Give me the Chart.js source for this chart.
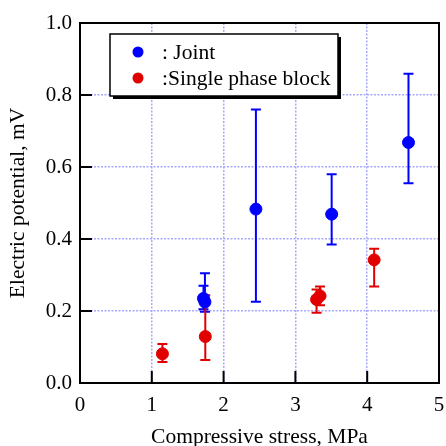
<!DOCTYPE html>
<html>
<head>
<meta charset="utf-8">
<script src="https://cdn.jsdelivr.net/npm/chart.js@4.4.0/dist/chart.umd.min.js"></script>
<style>
  html, body { margin: 0; padding: 0; background: #fff; }
  #wrap { width: 446px; height: 446px; }
</style>
</head>
<body>
<div id="wrap"><canvas id="myChart"></canvas></div>
<script>
// values
let jointX = [1.72, 1.74, 2.45, 3.505, 4.575]
let jointY = [0.235, 0.225, 0.483, 0.469, 0.668]
let jointHi = [0.270, 0.305, 0.760, 0.580, 0.859]
let jointLo = [0.205, 0.198, 0.226, 0.385, 0.555]

let singleX = [1.148, 1.745, 3.295, 3.343, 4.097]
let singleY = [0.081, 0.129, 0.232, 0.242, 0.342]
let singleHi = [0.108, 0.244, 0.260, 0.268, 0.373]
let singleLo = [0.058, 0.064, 0.195, 0.216, 0.268]

let xTicks = [0, 1, 2, 3, 4, 5]
let yTicks = [0.0, 0.2, 0.4, 0.6, 0.8, 1.0]

let font = 'Liberation Serif'
let blue = '#0000ff'
let red = '#e00000'

function pts(xs, ys, hi, lo) {
    return xs.map((x, i) => ({ x: x, y: ys[i], hi: hi[i], lo: lo[i] }))
}

// error bars, frame, inward ticks and legend box
let extras = {
    id: 'extras',
    beforeDatasetsDraw(chart) {
        let ctx = chart.ctx
        let xs = chart.scales.x, ys = chart.scales.y
        chart.data.datasets.forEach(ds => {
            ctx.save()
            ctx.strokeStyle = ds.backgroundColor
            ctx.lineWidth = 2
            ds.data.forEach(p => {
                let px = xs.getPixelForValue(p.x)
                let top = ys.getPixelForValue(p.hi)
                let bot = ys.getPixelForValue(p.lo)
                ctx.beginPath()
                ctx.moveTo(px, top); ctx.lineTo(px, bot)
                ctx.moveTo(px - 5, top); ctx.lineTo(px + 5, top)
                ctx.moveTo(px - 5, bot); ctx.lineTo(px + 5, bot)
                ctx.stroke()
            })
            ctx.restore()
        })
    },
    afterDraw(chart) {
        let ctx = chart.ctx
        let a = chart.chartArea
        let xs = chart.scales.x, ys = chart.scales.y
        ctx.save()
        ctx.strokeStyle = '#000'
        ctx.lineWidth = 2
        ctx.beginPath()
        xTicks.forEach(v => {
            let px = xs.getPixelForValue(v)
            ctx.moveTo(px, a.bottom); ctx.lineTo(px, a.bottom - 12)
        })
        yTicks.forEach(v => {
            let py = ys.getPixelForValue(v)
            ctx.moveTo(a.left, py); ctx.lineTo(a.left + 12, py)
        })
        ctx.stroke()
        ctx.strokeRect(a.left, a.top, a.right - a.left, a.bottom - a.top)

        // legend
        let lx = 110, ly = 34, lw = 228, lh = 62
        ctx.fillStyle = '#000'
        ctx.fillRect(lx + 3, ly + 3, lw, lh)
        ctx.fillStyle = '#fff'
        ctx.fillRect(lx, ly, lw, lh)
        ctx.lineWidth = 1.5
        ctx.strokeRect(lx, ly, lw, lh)
        let labels = [': Joint', ':Single phase block']
        chart.data.datasets.forEach((ds, i) => {
            let cy = ly + 18 + i * 26
            ctx.fillStyle = ds.backgroundColor
            ctx.beginPath()
            ctx.arc(lx + 28, cy, 5.5, 0, Math.PI * 2)
            ctx.fill()
            ctx.fillStyle = '#000'
            ctx.font = '21.5px "' + font + '"'
            ctx.textBaseline = 'middle'
            ctx.fillText(labels[i], lx + 52, cy + 1)
        })
        ctx.restore()
    }
}

new Chart('myChart', {
    type: 'scatter',
    data: {
        datasets: [{
            label: 'Joint',
            data: pts(jointX, jointY, jointHi, jointLo),
            backgroundColor: blue,
            borderColor: blue,
            pointRadius: 6,
            pointHoverRadius: 6
        }, {
            label: 'Single phase block',
            data: pts(singleX, singleY, singleHi, singleLo),
            backgroundColor: red,
            borderColor: red,
            pointRadius: 6,
            pointHoverRadius: 6
        }]
    },
    options: {
        responsive: true,
        maintainAspectRatio: false,
        animation: false,
        events: [],
        layout: { padding: { top: 23, right: 5, left: 0, bottom: 0 } },
        plugins: { legend: { display: false }, tooltip: { enabled: false } },
        scales: {
            x: {
                type: 'linear', min: 0, max: 5,
                afterFit: s => { s.height = 63; s.paddingLeft = 0; s.paddingRight = 0 },
                afterBuildTicks: s => { s.ticks = xTicks.map(v => ({ value: v })) },
                grid: { color: '#a8a8ff', lineWidth: 1.5, drawTicks: false },
                border: { display: false, dash: [2, 1.5] },
                ticks: { padding: 10, color: '#000', font: { family: font, size: 21 }, callback: v => String(v) },
                title: { display: true, text: 'Compressive stress, MPa', color: '#000', font: { family: font, size: 21.5 }, padding: { top: 6, bottom: -4 } }
            },
            y: {
                type: 'linear', min: 0, max: 1,
                afterFit: s => { s.width = 80; s.paddingTop = 0; s.paddingBottom = 0 },
                afterBuildTicks: s => { s.ticks = yTicks.map(v => ({ value: v })) },
                grid: { color: '#a8a8ff', lineWidth: 1.5, drawTicks: false },
                border: { display: false, dash: [2, 1.5] },
                ticks: { padding: 8, color: '#000', font: { family: font, size: 21 }, callback: v => v.toFixed(1) },
                title: { display: true, text: 'Electric potential, mV', color: '#000', font: { family: font, size: 21.5 }, padding: { top: 5, bottom: 2 } }
            }
        }
    },
    plugins: [extras]
})
</script>
</body>
</html>
